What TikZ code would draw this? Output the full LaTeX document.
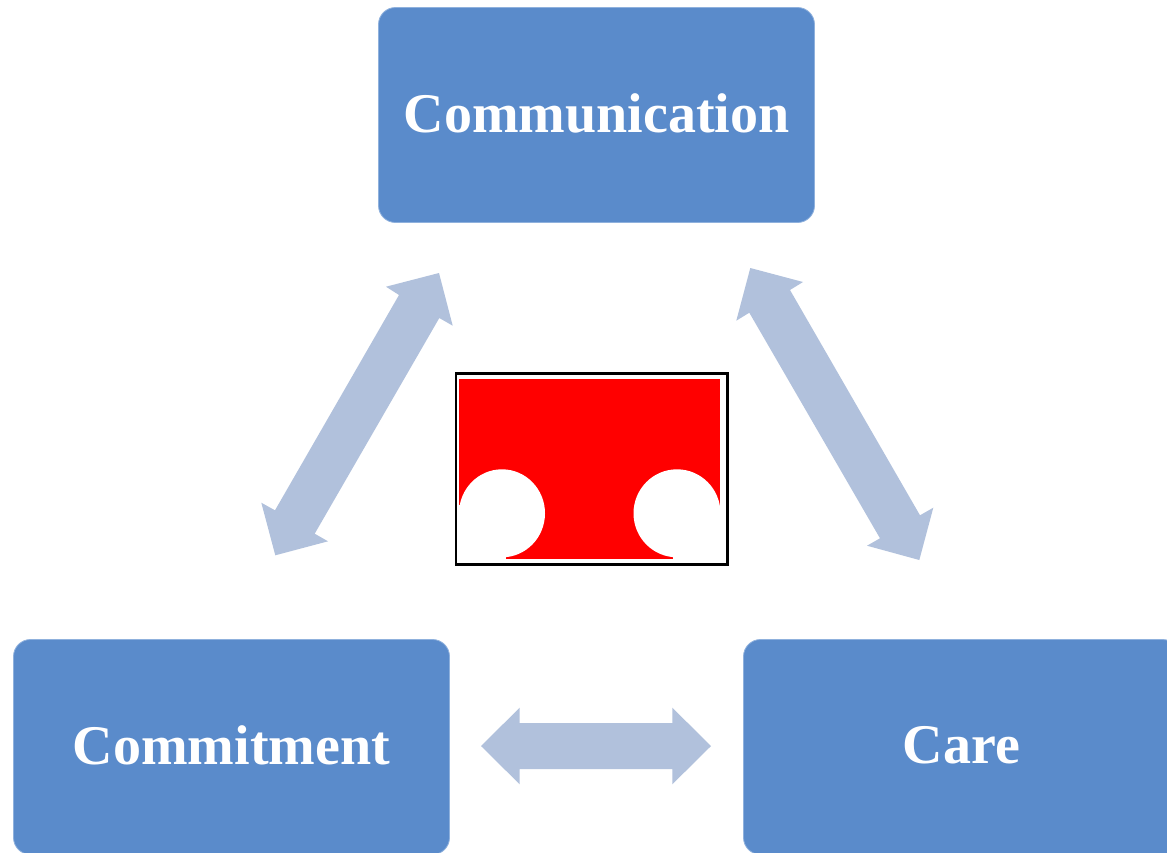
\documentclass[tikz,border=0pt]{standalone}
\usepackage{fontspec}
\setmainfont{Liberation Serif}
\definecolor{boxblue}{HTML}{5A8BCB}
\definecolor{boxedge}{HTML}{8FB1DD}
\definecolor{arrowblue}{HTML}{B1C1DC}
\newcommand{\lifted}[1]{\raisebox{3.5pt}{#1}}
\tikzset{
  topicbox/.style={draw=boxedge,line width=0.8pt,fill=boxblue,rounded corners=17pt,minimum width=436pt,minimum height=215pt,inner sep=0pt,text=white,font=\fontsize{56}{60}\selectfont\bfseries},
  dblarrow/.style={fill=arrowblue,draw=none},
  frameline/.style={draw=black,line width=2.4pt}
}
\begin{document}
\begin{tikzpicture}[x=1pt,y=-1pt]
\useasboundingbox (0,0) rectangle (1167,852);
\clip (0,0) rectangle (1167,852);
\fill[white] (0,0) rectangle (1167,852);
\node[topicbox] (comm) at (596.5,115) {\lifted{Communication}};
\node[topicbox] (commit) at (231.5,747) {\lifted{Commitment}};
\node[topicbox] (care) at (961.5,747) {\lifted{Care}};
% left arrow
\fill[dblarrow] (439,273) -- (452.7,325.7) -- (439.3,318) -- (314.7,533.7) -- (328,541.3) -- (275.3,555.3) -- (261.3,502.7) -- (275,510.3) -- (399,295) -- (386,286.7) -- cycle;
% right arrow
\fill[dblarrow] (750.3,268) -- (803,282) -- (790,290) -- (920,515.3) -- (933.3,507.7) -- (919.3,560) -- (867,545.7) -- (880,538.3) -- (749.3,312.7) -- (736.3,320.7) -- cycle;
% bottom arrow
\fill[dblarrow] (481,746) -- (519.7,707.7) -- (519.7,723) -- (672.3,723) -- (672.3,707.7) -- (711,746) -- (672.3,784.3) -- (672.3,769) -- (519.7,769) -- (519.7,784.3) -- cycle;
% centre picture
\fill[red] (459,378.5) rectangle (720.3,559);
\fill[white] (502,513.3) ellipse [x radius=43,y radius=44];
\fill[white] (677,513.3) ellipse [x radius=43.5,y radius=44];
\fill[white] (457,505) rectangle (505.5,563);
\fill[white] (673,508) rectangle (723,563);
\draw[frameline] (455.8,373.5) rectangle (727.3,564.5);
\end{tikzpicture}
\end{document}
